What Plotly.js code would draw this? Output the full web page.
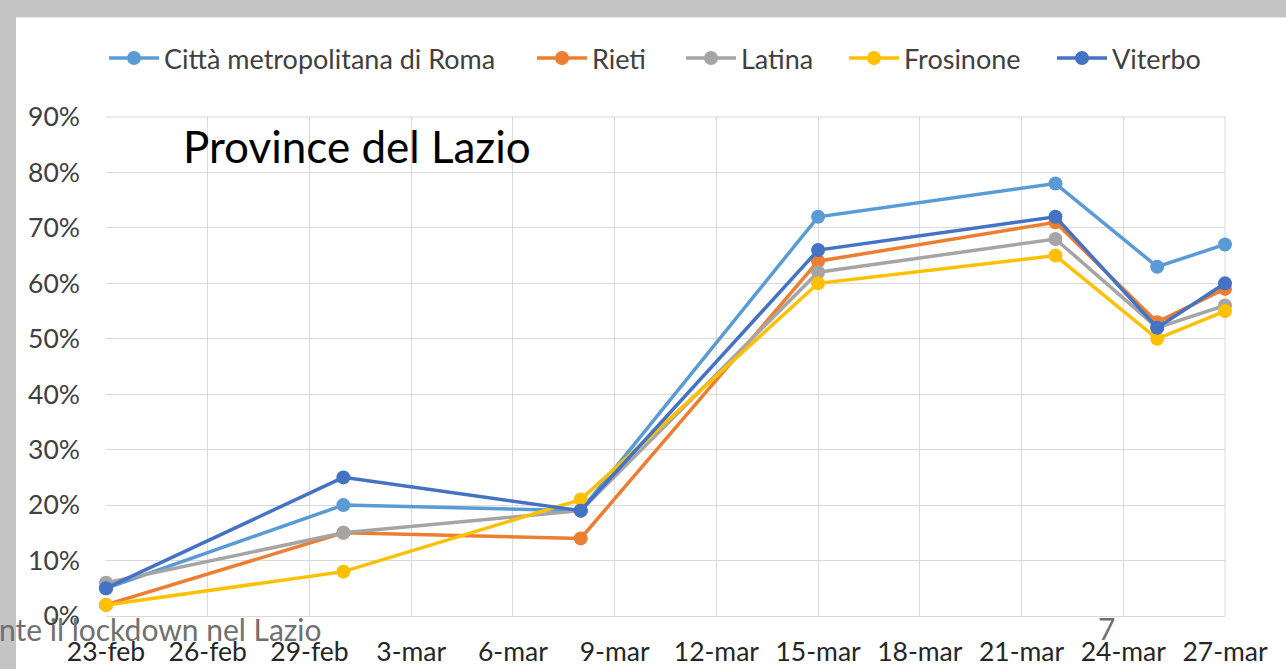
<!DOCTYPE html>
<html>
<head>
<meta charset="utf-8">
<script src="https://cdn.plot.ly/plotly-3.0.1.min.js"></script>
<style>
html,body{margin:0;padding:0;background:#c4c4c4;}
#chart{width:1286px;height:669px;}
</style>
</head>
<body>
<div id="chart"></div>
<script>
const dates = ['2020-02-23','2020-03-01','2020-03-08','2020-03-15','2020-03-22','2020-03-25','2020-03-27'];
const seriesNames = ['Città metropolitana di Roma','Rieti','Latina','Frosinone','Viterbo'];
const seriesColors = ['#5B9BD5','#ED7D31','#A5A5A5','#FFC000','#4472C4'];
const roma      = [0.05, 0.20, 0.19, 0.72, 0.78, 0.63, 0.67];
const rieti     = [0.02, 0.15, 0.14, 0.64, 0.71, 0.53, 0.59];
const latina    = [0.06, 0.15, 0.19, 0.62, 0.68, 0.52, 0.56];
const frosinone = [0.02, 0.08, 0.21, 0.60, 0.65, 0.50, 0.55];
const viterbo   = [0.05, 0.25, 0.19, 0.66, 0.72, 0.52, 0.60];
const tickDates = ['2020-02-23','2020-02-26','2020-02-29','2020-03-03','2020-03-06','2020-03-09','2020-03-12','2020-03-15','2020-03-18','2020-03-21','2020-03-24','2020-03-27'];
const tickLabels = ['23-feb','26-feb','29-feb','3-mar','6-mar','9-mar','12-mar','15-mar','18-mar','21-mar','24-mar','27-mar'];
const chartTitle = 'Province del Lazio';
const footerText = 'nte il lockdown nel Lazio';
const pageNumber = '7';

const allValues = [roma, rieti, latina, frosinone, viterbo];
const FONT = 'Lato, "Open Sans", sans-serif';

// pixel geometry helpers (plot area: x 106..1225, y 117.4..615.6)
const L = 106, R = 1225, T = 117.4, B = 615.6;
const W = 1286, H = 669;
const px = x => (x - L) / (R - L);
const py = y => (B - y) / (B - T);

const legendIds = ['legend', 'legend2', 'legend3', 'legend4', 'legend5'];
const legendStartsPx = [104, 532, 681, 844, 1052];

const traces = allValues.map((vals, i) => ({
  type: 'scatter',
  mode: 'lines+markers',
  name: seriesNames[i],
  legend: legendIds[i],
  x: dates,
  y: vals,
  line: {color: seriesColors[i], width: 3.5},
  marker: {color: seriesColors[i], size: 14},
  cliponaxis: false
}));

const layout = {
  width: W, height: H,
  margin: {l: L, r: W - R, t: T, b: H - B, pad: 0},
  paper_bgcolor: '#c4c4c4',
  plot_bgcolor: '#ffffff',
  font: {family: FONT, color: '#404040', size: 21},
  showlegend: true,
  xaxis: {
    type: 'date',
    range: ['2020-02-23', '2020-03-27'],
    tickmode: 'array',
    tickvals: tickDates,
    ticktext: tickLabels,
    showgrid: true,
    gridcolor: '#d9d9d9',
    gridwidth: 1,
    showline: true,
    linecolor: '#d9d9d9',
    linewidth: 1,
    zeroline: false,
    ticks: '',
    tickfont: {family: FONT, size: 26.5, color: '#262626'},
    ticklabelstandoff: 12,
    fixedrange: true
  },
  yaxis: {
    range: [0, 0.9],
    dtick: 0.1,
    tick0: 0,
    tickformat: '.0%',
    showgrid: true,
    gridcolor: '#d9d9d9',
    gridwidth: 1,
    zeroline: false,
    showline: false,
    ticks: '',
    tickfont: {family: FONT, size: 26.5, color: '#404040'},
    ticklabelstandoff: 25,
    fixedrange: true
  },
  shapes: [
    {type: 'rect', xref: 'paper', yref: 'paper', layer: 'below',
     x0: px(16), x1: px(1290), y0: py(18), y1: py(672),
     fillcolor: '#ffffff', line: {width: 0}},
    {type: 'line', xref: 'paper', yref: 'paper', layer: 'below',
     x0: 1, x1: 1, y0: 0, y1: 1, line: {color: '#d9d9d9', width: 1}},
    {type: 'line', xref: 'paper', yref: 'paper', layer: 'below',
     x0: 0, x1: 1, y0: 1, y1: 1, line: {color: '#d9d9d9', width: 1}}
  ],
  annotations: [
    {text: chartTitle, xref: 'paper', yref: 'paper', x: px(181), y: py(146),
     xanchor: 'left', yanchor: 'middle', showarrow: false,
     font: {family: FONT, size: 44, color: '#000000'}},
    {text: footerText, xref: 'paper', yref: 'paper', x: px(-3), y: py(629),
     xanchor: 'left', yanchor: 'middle', showarrow: false,
     font: {family: FONT, size: 30, color: '#707070'}},
    {text: pageNumber, xref: 'paper', yref: 'paper', x: px(1106), y: py(628),
     xanchor: 'center', yanchor: 'middle', showarrow: false,
     font: {family: FONT, size: 30, color: '#707070'}}
  ]
};

legendIds.forEach((id, i) => {
  layout[id] = {
    orientation: 'h',
    x: px(legendStartsPx[i]), xanchor: 'left',
    y: py(59), yanchor: 'middle',
    bgcolor: 'rgba(0,0,0,0)',
    font: {family: FONT, size: 27, color: '#404040'},
    itemwidth: 50,
    traceorder: 'normal'
  };
});

Plotly.newPlot('chart', traces, layout, {displayModeBar: false, staticPlot: true});
</script>
</body>
</html>
